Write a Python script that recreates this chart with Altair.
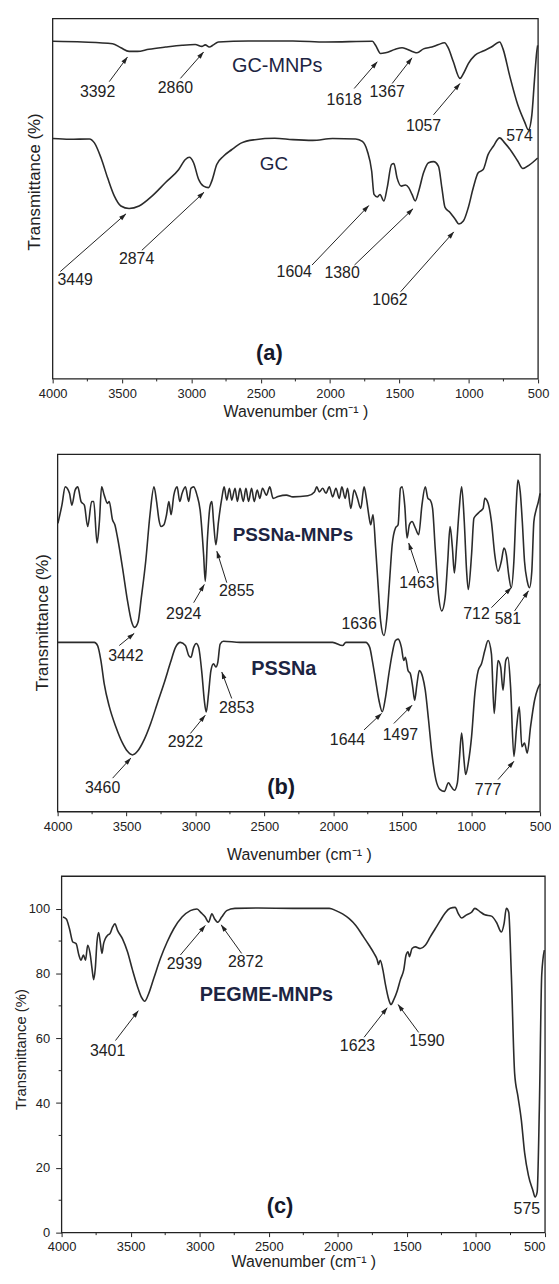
import math
import altair as alt
import pandas as pd

FONT = "Liberation Sans"
INK = "#222222"
LINE = "#2b2b2b"
NAVY = "#1d2442"

wave_ticks = [4000, 3500, 3000, 2500, 2000, 1500, 1000, 500]
minor_ticks = [3750, 3250, 2750, 2250, 1750, 1250, 750]
c_y_ticks = [0, 20, 40, 60, 80, 100]
c_y_minor = [10, 30, 50, 70, 90]

# ---------------- panel (a) : arbitrary transmittance units (0-100) ----------------
gc_mnps = [(3998, 93.7), (3783, 93.5), (3568, 93.0), (3508, 91.9), (3449, 90.9), (3389, 90.9),
           (3306, 91.5), (3186, 92.1), (3067, 92.6), (2972, 92.8), (2924, 92.3), (2900, 92.7),
           (2871, 92.1), (2841, 92.7), (2805, 93.5), (2590, 93.8), (2268, 93.8), (2030, 93.5),
           (1695, 93.7), (1672, 92.6), (1636, 90.3), (1600, 90.5), (1529, 91.5), (1481, 91.9),
           (1445, 91.5), (1397, 90.7), (1373, 90.5), (1326, 91.6), (1266, 92.1), (1218, 92.8),
           (1175, 93.3), (1147, 91.8), (1111, 88.0), (1063, 83.4), (1039, 84.7), (1003, 87.5),
           (956, 89.8), (896, 91.0), (837, 92.1), (777, 93.5), (753, 91.6), (706, 84.3),
           (646, 76.0), (598, 71.4), (570, 69.1), (545, 73.3), (527, 82.5), (510, 90.7), (503, 92.6)]
gc = [(3998, 66.7), (3878, 66.5), (3735, 66.6), (3699, 65.5), (3651, 61.3), (3604, 55.8),
      (3556, 50.8), (3508, 48.0), (3449, 47.3), (3377, 48.0), (3282, 50.8), (3186, 54.5),
      (3091, 58.1), (3043, 60.9), (3015, 61.5), (2984, 60.0), (2948, 55.4), (2912, 53.5),
      (2876, 53.1), (2853, 54.9), (2817, 59.5), (2769, 61.8), (2710, 63.6), (2638, 65.5),
      (2542, 66.4), (2399, 66.8), (2268, 66.4), (2125, 66.2), (1982, 66.7), (1815, 66.6),
      (1767, 65.9), (1731, 63.2), (1700, 57.7), (1683, 51.2), (1660, 50.5), (1640, 51.2),
      (1612, 49.4), (1588, 53.1), (1557, 59.5), (1540, 59.8), (1517, 55.8), (1486, 53.5),
      (1457, 53.8), (1433, 53.1), (1409, 51.2), (1386, 49.4), (1361, 52.1), (1326, 57.2),
      (1290, 60.0), (1254, 60.3), (1218, 59.0), (1194, 53.1), (1171, 47.6), (1135, 46.2),
      (1099, 44.4), (1071, 43.0), (1039, 43.8), (1003, 47.6), (967, 53.1), (932, 57.2),
      (896, 58.1), (860, 62.3), (824, 64.5), (777, 66.9), (741, 65.5), (693, 63.2),
      (646, 60.4), (610, 58.4), (562, 59.4), (503, 61.3)]
a_labels = [("3392", 3676, 79.7), ("2860", 3115, 80.6), ("1618", 1898, 77.4), ("1367", 1588, 79.5),
            ("1057", 1326, 70.1), ("574", 634, 67.3), ("3449", 3838, 27.5), ("2874", 3395, 33.4),
            ("1604", 2258, 29.8), ("1380", 1913, 29.3), ("1062", 1568, 22.0)]
a_arrows = [(3592, 82.5, 3461, 89.3), (3079, 83.4, 2912, 90.7), (1826, 80.6, 1660, 88.0),
            (1552, 82.0, 1409, 89.1), (1254, 73.3, 1063, 82.0), (3945, 29.8, 3472, 45.8),
            (3357, 35.7, 2909, 51.8), (2130, 31.6, 1721, 48.1), (1824, 31.6, 1402, 47.2),
            (1491, 24.2, 1108, 40.8)]
a_names = [("GC-MNPs", 2381, 86.9, 20, "normal"), ("GC", 2405, 59.5, 19, "normal")]
a_tag = ("(a)", 2437, 7.2)

# ---------------- panel (b) ----------------
pssna_mnps = [(3998, 80.7), (3969, 85.8), (3945, 90.9), (3914, 89.1), (3897, 85.8), (3873, 90.0),
              (3854, 90.9), (3830, 86.8), (3806, 85.8), (3782, 79.8), (3753, 86.8), (3738, 86.8),
              (3714, 75.2), (3697, 81.2), (3681, 90.9), (3662, 88.6), (3638, 86.3), (3626, 86.8),
              (3602, 81.7), (3585, 80.3), (3565, 76.6), (3529, 68.2), (3493, 59.0), (3465, 53.4),
              (3441, 51.6), (3417, 53.0), (3393, 59.9), (3361, 70.1), (3330, 83.1), (3301, 90.9),
              (3282, 86.8), (3265, 81.7), (3249, 79.8), (3229, 80.3), (3210, 83.1), (3193, 86.8),
              (3177, 83.1), (3157, 88.6), (3133, 90.9), (3114, 86.8), (3097, 89.1), (3073, 90.9),
              (3049, 86.8), (3033, 90.5), (3013, 90.9), (2989, 88.6), (2965, 84.0), (2941, 71.9),
              (2929, 64.5), (2913, 76.6), (2893, 85.8), (2881, 86.8), (2869, 81.2), (2852, 74.7),
              (2833, 81.2), (2809, 87.7), (2792, 90.9), (2773, 87.2), (2754, 90.5), (2737, 87.2),
              (2713, 90.5), (2696, 86.8), (2677, 90.5), (2653, 86.8), (2634, 90.5), (2615, 86.8),
              (2593, 90.5), (2574, 86.8), (2552, 90.0), (2533, 87.7), (2514, 90.5), (2485, 88.6),
              (2461, 90.9), (2437, 87.7), (2401, 88.2), (2341, 88.6), (2293, 88.1), (2185, 88.4),
              (2137, 89.5), (2120, 90.9), (2101, 89.5), (2077, 90.5), (2053, 89.1), (2029, 90.9),
              (2005, 88.1), (1981, 90.5), (1957, 87.7), (1938, 90.9), (1914, 87.7), (1897, 90.5),
              (1873, 84.9), (1849, 90.0), (1825, 87.7), (1801, 84.9), (1777, 90.9), (1760, 87.7),
              (1741, 82.6), (1729, 80.3), (1712, 83.1), (1693, 73.8), (1674, 62.7), (1657, 53.4),
              (1633, 49.3), (1609, 55.3), (1592, 64.5), (1573, 74.7), (1549, 79.4), (1530, 80.3),
              (1513, 90.5), (1501, 90.9), (1482, 85.8), (1465, 76.6), (1448, 80.3), (1429, 81.2),
              (1405, 79.4), (1381, 77.5), (1357, 85.8), (1333, 90.9), (1314, 87.7), (1297, 87.2),
              (1280, 84.9), (1261, 73.8), (1237, 60.8), (1213, 56.2), (1189, 59.9), (1170, 70.1),
              (1153, 79.8), (1136, 73.8), (1122, 66.8), (1105, 74.7), (1088, 84.0), (1069, 90.9),
              (1050, 81.2), (1033, 67.3), (1021, 62.2), (997, 72.0), (980, 82.1), (961, 83.1),
              (937, 84.0), (913, 84.9), (901, 87.7), (877, 86.3), (853, 81.2), (829, 72.0),
              (805, 67.3), (781, 70.1), (762, 73.8), (745, 71.9), (728, 66.4), (709, 62.7),
              (690, 70.1), (673, 85.8), (661, 92.8), (644, 89.5), (629, 81.2), (613, 70.1),
              (593, 64.5), (577, 62.7), (560, 67.3), (545, 81.2), (529, 84.4), (512, 86.8), (500, 89.1)]
pssna = [(3998, 47.4), (3878, 47.4), (3734, 47.4), (3710, 46.5), (3686, 42.3), (3662, 35.8),
         (3625, 29.4), (3578, 23.8), (3529, 19.2), (3493, 16.9), (3457, 15.9), (3421, 16.9),
         (3373, 20.1), (3325, 24.7), (3277, 30.3), (3229, 35.8), (3181, 41.8), (3145, 46.0),
         (3109, 47.4), (3073, 46.5), (3049, 43.7), (3033, 43.2), (3013, 46.0), (2994, 47.1),
         (2977, 46.0), (2953, 38.6), (2936, 31.2), (2922, 27.9), (2905, 33.1), (2888, 39.5),
         (2869, 41.4), (2852, 40.5), (2838, 41.8), (2821, 46.9), (2797, 47.7), (2677, 47.4),
         (2293, 47.4), (2005, 47.4), (1933, 46.5), (1909, 47.4), (1813, 47.4), (1765, 47.4),
         (1736, 46.0), (1717, 42.3), (1693, 36.7), (1669, 31.2), (1645, 28.0), (1621, 32.1),
         (1597, 38.6), (1573, 44.2), (1549, 47.9), (1530, 48.3), (1506, 46.0), (1489, 42.3),
         (1477, 43.2), (1458, 39.5), (1441, 38.6), (1424, 34.9), (1410, 31.2), (1393, 35.8),
         (1376, 39.5), (1352, 37.7), (1333, 34.0), (1309, 25.6), (1285, 16.4), (1256, 9.0),
         (1225, 6.2), (1194, 5.7), (1165, 8.1), (1146, 7.1), (1122, 6.0), (1100, 8.1),
         (1086, 14.5), (1069, 22.0), (1052, 14.5), (1040, 10.4), (1021, 13.6), (997, 21.0),
         (973, 33.1), (949, 39.5), (925, 41.4), (901, 45.1), (877, 47.9), (853, 44.2),
         (833, 27.5), (819, 34.9), (805, 42.3), (786, 40.5), (769, 34.0), (749, 42.3),
         (733, 43.2), (714, 34.9), (690, 15.5), (670, 23.8), (651, 29.4), (632, 18.2),
         (613, 19.2), (593, 16.4), (569, 23.8), (540, 31.2), (517, 34.4), (500, 35.8)]
b_labels = [("3442", 3505, 43.7), ("2924", 3085, 55.3), ("2855", 2701, 61.7), ("1636", 1813, 52.5),
            ("1463", 1393, 64.1), ("712", 961, 55.3), ("581", 733, 53.9), ("3460", 3674, 6.7),
            ("2922", 3073, 19.6), ("2853", 2701, 28.9), ("1644", 1897, 20.1), ("1497", 1513, 21.5),
            ("777", 877, 6.2)]
b_arrows = [(3553, 46.5, 3445, 49.9), (3013, 58.5, 2936, 63.6), (2773, 64.1, 2845, 72.9),
            (1381, 66.8, 1453, 75.2), (853, 57.1, 709, 62.7), (685, 56.2, 584, 61.8),
            (3601, 9.4, 3469, 15.0), (3037, 21.9, 2929, 27.0), (2737, 31.7, 2809, 39.1),
            (1777, 22.9, 1650, 27.5), (1561, 24.7, 1429, 29.8), (805, 9.0, 690, 14.1)]
b_names = [("PSSNa-MNPs", 2293, 77.5, 19, "bold"), ("PSSNa", 2359, 39.8, 20, "bold")]
b_tag = ("(b)", 2379, 6.8)

# ---------------- panel (c) : Transmittance (%) ----------------
pegme_mnps = [(3990, 97.4), (3966, 96.8), (3943, 93.8), (3919, 89.7), (3895, 89.2), (3875, 85.7),
              (3859, 84.1), (3842, 85.7), (3827, 84.1), (3811, 88.7), (3794, 86.2), (3780, 81.6),
              (3768, 78.1), (3756, 81.6), (3744, 89.7), (3732, 92.6), (3720, 89.7), (3708, 86.2),
              (3696, 89.2), (3684, 90.7), (3667, 91.8), (3650, 92.3), (3631, 94.3), (3614, 95.3),
              (3595, 93.3), (3559, 90.7), (3523, 86.7), (3487, 81.1), (3451, 76.0), (3420, 72.5),
              (3399, 71.4), (3372, 73.5), (3332, 78.6), (3284, 84.7), (3236, 89.7), (3188, 93.8),
              (3128, 97.4), (3068, 99.4), (3020, 99.9), (2989, 98.7), (2960, 97.4), (2936, 95.8),
              (2912, 98.4), (2893, 96.9), (2869, 95.8), (2841, 97.4), (2805, 99.4), (2745, 100.1),
              (2577, 100.2), (2325, 100.1), (2062, 100.1), (2014, 99.4), (1966, 98.4), (1918, 96.9),
              (1870, 94.8), (1822, 91.8), (1774, 88.7), (1738, 86.2), (1714, 84.1), (1706, 82.8),
              (1693, 84.1), (1674, 81.1), (1655, 76.5), (1631, 71.9), (1616, 70.4), (1595, 71.9),
              (1571, 74.5), (1547, 78.1), (1523, 81.1), (1506, 85.7), (1492, 86.7), (1482, 85.2),
              (1463, 87.7), (1439, 88.2), (1403, 87.7), (1367, 88.7), (1331, 91.3), (1295, 93.8),
              (1259, 96.3), (1223, 98.7), (1187, 100.1), (1151, 100.4), (1127, 98.4), (1104, 97.1),
              (1068, 98.1), (1032, 98.9), (1008, 100.1), (972, 99.1), (936, 98.1), (888, 97.7),
              (852, 95.8), (816, 92.8), (797, 95.3), (780, 100.1), (763, 98.9), (744, 79.6),
              (720, 49.1), (696, 42.0), (672, 34.9), (648, 24.7), (620, 17.6), (588, 13.0),
              (572, 11.0), (557, 12.5), (541, 38.9), (524, 79.6), (505, 87.2)]
c_labels = [("3401", 3667, 56.1), ("2939", 3111, 82.9), ("2872", 2668, 83.4),
            ("1623", 1858, 57.5), ("1590", 1355, 59.1), ("575", 632, 7.2)]
c_arrows = [(3610, 59.3, 3445, 68.5), (3140, 85.7, 2960, 94.8), (2697, 86.2, 2845, 95.0),
            (1810, 60.3, 1643, 69.4), (1415, 61.8, 1564, 70.4)]
c_names = [("PEGME-MNPs", 2517, 73.3, 20, "bold")]
c_tag = ("(c)", 2419, 8.1)

HEAD = "M0,-1L0.6,0.9L-0.6,0.9Z"


def x_axis(title_pad, label_pad, align_last_right=False):
    extra = {}
    if align_last_right:
        extra["labelAlign"] = {"condition": {"test": "datum.value == 500", "value": "right"},
                               "value": "center"}
    return alt.Axis(values=wave_ticks, format="d", tickSize=4, tickWidth=1, tickColor=INK,
                    domain=False, grid=False, labelFont=FONT, labelFontSize=13, labelColor=INK,
                    labelPadding=label_pad, labelFlush=False, labelOverlap=False,
                    title="Wavenumber (cm\u207b\u00b9 )", titleFont=FONT, titleFontSize=16,
                    titleFontWeight="normal", titleColor=INK, titlePadding=title_pad, **extra)


def panel(series, labels, arrows, names, tag, ymax, rng, height, yaxis, xaxis, y_minor=None):
    span = rng[1] - rng[0]
    X = alt.X("w:Q", scale=alt.Scale(domain=[4000, 500], range=list(rng), nice=False, zero=False),
              axis=xaxis)
    Y = alt.Y("t:Q", scale=alt.Scale(domain=[0, ymax], nice=False, zero=False), axis=yaxis)
    layers = []
    frame = pd.DataFrame({"w": [4000], "w2": [500], "t": [0], "t2": [ymax]})
    layers.append(alt.Chart(frame).mark_rect(fillOpacity=0, stroke=INK, strokeWidth=1.3)
                  .encode(x=X, x2="w2:Q", y=Y, y2="t2:Q"))
    layers.append(alt.Chart(pd.DataFrame({"w": minor_ticks})).mark_rule(color=INK, strokeWidth=1)
                  .encode(x=X, y=alt.value(height), y2=alt.value(height + 2.5)))
    if y_minor:
        layers.append(alt.Chart(pd.DataFrame({"t": y_minor})).mark_rule(color=INK, strokeWidth=1)
                      .encode(y=Y, x=alt.value(0), x2=alt.value(-3)))
    rows = [{"s": nm, "w": w, "t": t} for nm, pts in series for (w, t) in pts]
    layers.append(alt.Chart(pd.DataFrame(rows))
                  .mark_line(color=LINE, strokeWidth=1.6, strokeJoin="round", interpolate="monotone")
                  .encode(x=X, y=Y, detail="s:N"))
    shafts, heads = [], []
    for (w0, t0, w1, t1) in arrows:
        sx = (w0 - w1) / 3500.0 * span
        sy = -(t1 - t0) / ymax * height
        ang = math.degrees(math.atan2(sx, -sy)) % 360
        L = math.hypot(sx, sy)
        f = 3.5 / L
        shafts.append({"w": w0, "t": t0, "w2": w1, "t2": t1})
        heads.append({"w": w1 - (w1 - w0) * f, "t": t1 - (t1 - t0) * f, "ang": ang})
    if shafts:
        layers.append(alt.Chart(pd.DataFrame(shafts)).mark_rule(color=INK, strokeWidth=1)
                      .encode(x=X, y=Y, x2="w2:Q", y2="t2:Q"))
        layers.append(alt.Chart(pd.DataFrame(heads)).mark_point(shape=HEAD, filled=True, size=60,
                                                                color=INK, opacity=1)
                      .encode(x=X, y=Y, angle=alt.Angle("ang:Q", scale=None)))
    lab = pd.DataFrame([{"txt": s, "w": w, "t": t} for s, w, t in labels])
    layers.append(alt.Chart(lab).mark_text(font=FONT, fontSize=16, color=INK)
                  .encode(x=X, y=Y, text="txt:N"))
    for (s, w, t, sz, wt) in names:
        layers.append(alt.Chart(pd.DataFrame({"txt": [s], "w": [w], "t": [t]}))
                      .mark_text(font=FONT, fontSize=sz, fontWeight=wt, color=NAVY)
                      .encode(x=X, y=Y, text="txt:N"))
    layers.append(alt.Chart(pd.DataFrame({"txt": [tag[0]], "w": [tag[1]], "t": [tag[2]]}))
                  .mark_text(font=FONT, fontSize=22, fontWeight="bold", color="#15192b")
                  .encode(x=X, y=Y, text="txt:N"))
    return alt.layer(*layers).properties(width=rng[1], height=height)


def y_title_only(pad, ty, size):
    return alt.Axis(ticks=False, labels=False, domain=False, grid=False,
                    title="Transmittance (%)", titleFont=FONT, titleFontSize=size,
                    titleFontWeight="normal", titleColor=INK, titlePadding=pad, titleY=ty)


pa = panel([("GC-MNPs", gc_mnps), ("GC", gc)], a_labels, a_arrows, a_names, a_tag,
           100, (-9, 480), 363, y_title_only(18, 164, 17), x_axis(3, 5))
pb = panel([("PSSNa-MNPs", pssna_mnps), ("PSSNa", pssna)], b_labels, b_arrows, b_names, b_tag,
           100, (-4, 482), 360, y_title_only(10, 169, 17), x_axis(13, 5))
c_axis = alt.Axis(values=c_y_ticks, format="d", tickSize=6, tickWidth=1, tickColor=INK, domain=False,
                  grid=False, labelFont=FONT, labelFontSize=13, labelColor=INK, labelPadding=6,
                  title="Transmittance (%)", titleFont=FONT, titleFontSize=15, titleFontWeight="normal",
                  titleColor=INK, titlePadding=0, titleY=174)
pc = panel([("PEGME-MNPs", pegme_mnps)], c_labels, c_arrows, c_names, c_tag,
           110, (0, 487), 359, c_axis, x_axis(0, 4, align_last_right=True), y_minor=c_y_minor)


def spacer(h):
    return (alt.Chart(pd.DataFrame({"s": [0]})).mark_point(opacity=0)
            .encode(x=alt.X("s:Q", axis=None), y=alt.Y("s:Q", axis=None))
            .properties(width=1, height=h))


chart = (alt.vconcat(pa, spacer(76), pb, spacer(65), pc, spacing=0, bounds="flush")
         .resolve_scale(x="independent", y="independent")
         .properties(padding={"left": 5, "top": 5, "right": 0, "bottom": 0})
         .configure_view(strokeWidth=0))

chart.save("out.html", embed_options={"renderer": "svg", "actions": False})
